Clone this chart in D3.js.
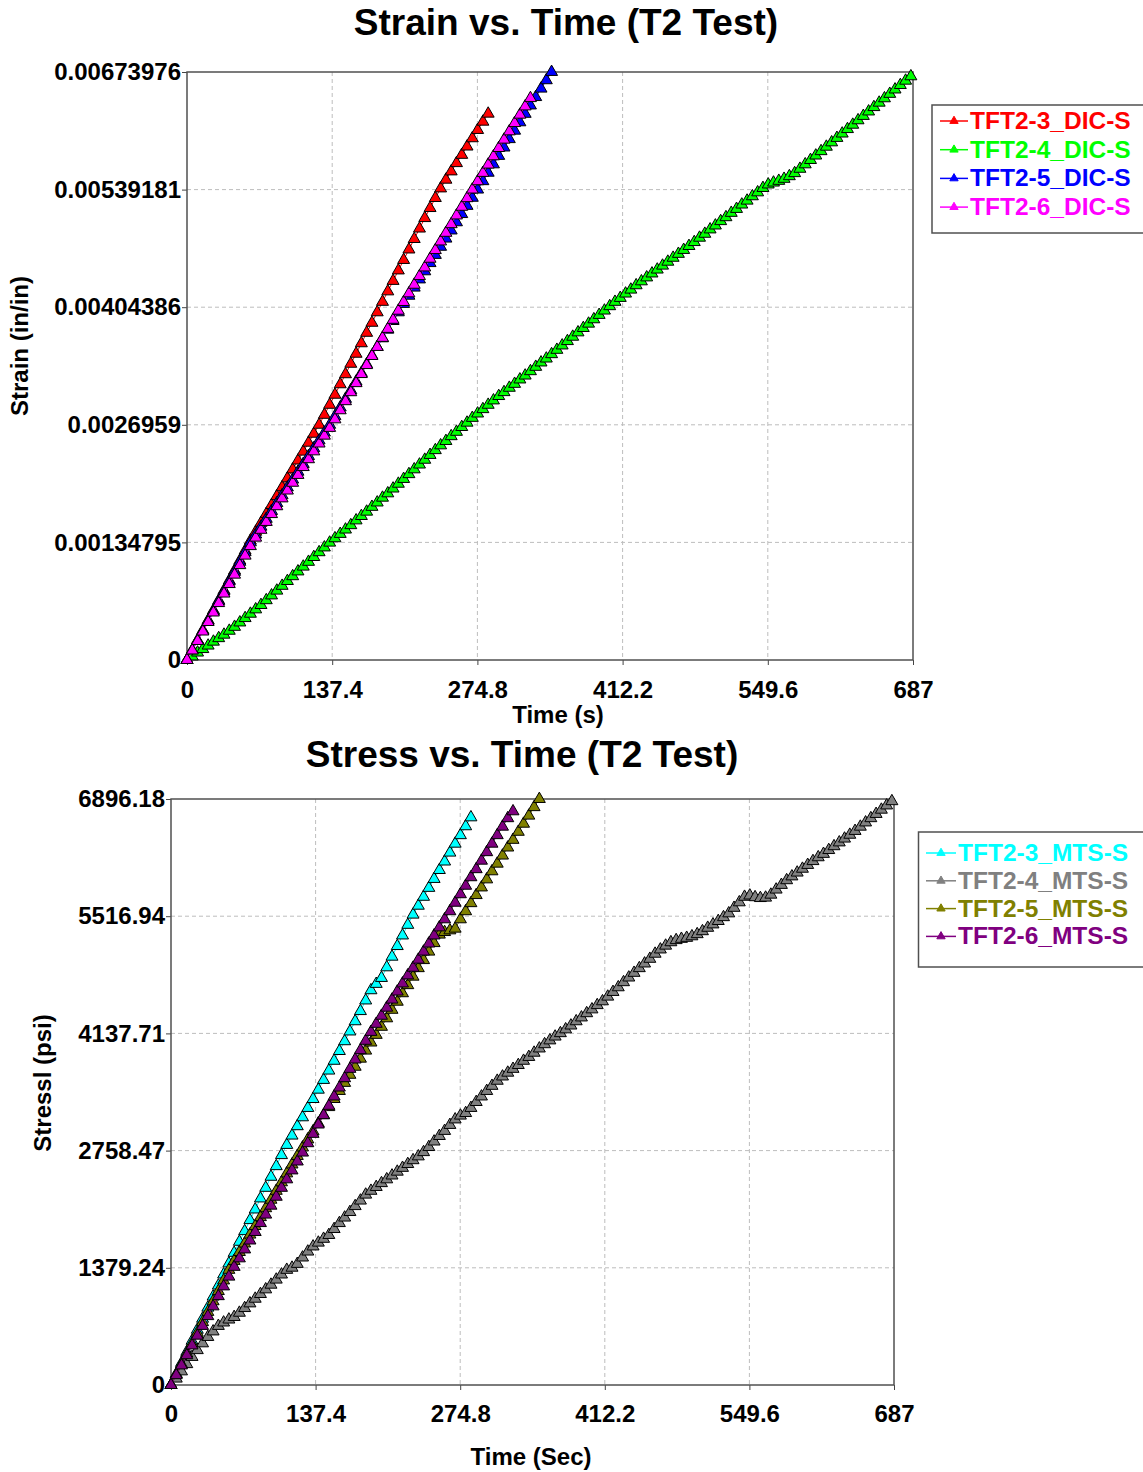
<!DOCTYPE html>
<html>
<head>
<meta charset="utf-8">
<script src="https://cdn.jsdelivr.net/npm/d3@7"></script>
<style>
    body { margin: 0; background: #fff; }
    svg { display: block; font-family: "Liberation Sans", Arial, sans-serif; font-weight: bold; }
</style>
</head>
<body>
<svg id="chart" width="1143" height="1472"></svg>
<script>
// Шаг по времени между отсчётами (с)
const timeStep = 5;

// Деления осей
const timeTicks = [0, 137.4, 274.8, 412.2, 549.6, 687];
const strainTicks = [0, 0.00134795, 0.0026959, 0.00404386, 0.00539181, 0.00673976];
const stressTicks = [0, 1379.24, 2758.47, 4137.71, 5516.94, 6896.18];

// Деформация, микрострейн (in/in * 1e6)
const strainNames = ["TFT2-3_DIC-S", "TFT2-4_DIC-S", "TFT2-5_DIC-S", "TFT2-6_DIC-S"];
const strainTFT2_3 = [0,114,228,342,456,570,684,798,912,1026,
    1140,1254,1368,1470,1572,1674,1776,1878,1980,2082,
    2184,2286,2388,2490,2593,2696,2810,2925,3040,3160,
    3275,3395,3510,3630,3750,3865,3985,4105,4225,4345,
    4465,4585,4705,4825,4945,5065,5180,5295,5405,5505,
    5600,5695,5790,5885,5980,6075,6170,6262];
const strainTFT2_4 = [0,40,85,125,165,210,250,290,335,380,
    430,480,530,580,630,685,740,795,850,905,
    960,1015,1070,1125,1180,1235,1290,1345,1395,1445,
    1495,1545,1600,1650,1700,1755,1805,1860,1910,1965,
    2020,2075,2130,2185,2240,2295,2350,2405,2460,2510,
    2565,2615,2670,2720,2775,2825,2875,2925,2975,3025,
    3070,3120,3165,3215,3260,3310,3360,3410,3455,3505,
    3555,3605,3655,3705,3755,3805,3855,3905,3955,4005,
    4055,4105,4150,4200,4245,4295,4340,4385,4430,4475,
    4520,4565,4610,4655,4700,4745,4790,4840,4885,4935,
    4980,5030,5075,5125,5170,5220,5265,5315,5360,5410,
    5450,5472,5492,5515,5545,5580,5630,5681,5731,5782,
    5832,5883,5933,5984,6034,6085,6135,6186,6236,6287,
    6337,6388,6438,6489,6539,6590,6640,6690];
const strainTFT2_5 = [0,110,225,335,450,560,675,785,900,1010,
    1125,1235,1348,1438,1528,1618,1708,1798,1888,1978,
    2068,2158,2247,2337,2427,2517,2607,2696,2795,2894,
    2993,3092,3191,3290,3390,3489,3588,3687,3786,3885,
    3985,4081,4175,4268,4362,4455,4549,4643,4736,4830,
    4923,5017,5111,5205,5298,5392,5488,5585,5681,5778,
    5874,5970,6067,6163,6260,6356,6452,6549,6645,6740];
const strainTFT2_6 = [0,109,217,326,435,544,652,761,870,978,
    1087,1196,1305,1402,1492,1582,1672,1762,1852,1942,
    2031,2121,2211,2301,2391,2481,2571,2660,2758,2862,
    2966,3069,3173,3277,3380,3484,3588,3692,3795,3899,
    4003,4103,4202,4301,4400,4499,4599,4698,4797,4896,
    4995,5095,5194,5293,5392,5487,5583,5678,5773,5868,
    5964,6059,6154,6250,6345,6440];
const strainColors = ["#ff0000", "#00ff00", "#0000ff", "#ff00ff"];

// Напряжение, psi
const stressNames = ["TFT2-3_MTS-S", "TFT2-4_MTS-S", "TFT2-5_MTS-S", "TFT2-6_MTS-S"];
const stressTFT2_3 = [0,130,260,390,520,650,780,910,1040,1170,
    1300,1430,1555,1685,1810,1940,2065,2195,2320,2450,
    2575,2705,2825,2935,3045,3150,3260,3365,3475,3590,
    3700,3815,3930,4045,4160,4280,4400,4525,4645,4720,
    4790,4915,5040,5165,5290,5415,5535,5640,5745,5850,
    5955,6060,6160,6265,6370,6470,6575,6680];
const stressTFT2_4 = [0,75,160,245,330,410,490,565,630,695,
    735,770,800,850,905,960,1015,1070,1125,1180,
    1240,1300,1355,1380,1425,1500,1570,1630,1675,1720,
    1765,1835,1905,1970,2035,2105,2170,2240,2285,2330,
    2375,2420,2465,2510,2555,2600,2645,2690,2740,2800,
    2865,2930,2990,3060,3125,3170,3200,3260,3330,3395,
    3460,3520,3580,3630,3675,3720,3765,3815,3860,3910,
    3960,4010,4055,4100,4140,4185,4230,4280,4325,4375,
    4420,4470,4515,4570,4625,4680,4740,4795,4850,4905,
    4960,5015,5075,5125,5170,5210,5235,5250,5262,5280,
    5305,5340,5380,5420,5460,5505,5550,5615,5680,5745,
    5760,5740,5730,5735,5770,5830,5885,5940,5985,6030,
    6075,6120,6165,6210,6250,6295,6340,6385,6430,6475,
    6520,6570,6620,6670,6720,6770,6820,6870];
const stressTFT2_5 = [0,125,245,370,490,615,740,860,985,1105,
    1230,1355,1460,1565,1665,1770,1870,1975,2080,2180,
    2285,2385,2490,2595,2695,2795,2890,2985,3080,3175,
    3270,3365,3460,3555,3650,3745,3840,3935,4030,4120,
    4215,4315,4415,4510,4610,4705,4805,4905,5000,5100,
    5200,5300,5330,5350,5370,5480,5575,5670,5765,5855,
    5950,6045,6135,6230,6325,6415,6510,6605,6700,6800,
    6896];
const stressTFT2_6 = [0,115,230,350,465,580,695,810,925,1045,
    1160,1275,1390,1490,1595,1700,1800,1905,2005,2110,
    2215,2320,2420,2525,2630,2735,2845,2955,3065,3175,
    3285,3395,3500,3610,3720,3830,3940,4050,4155,4250,
    4345,4440,4535,4630,4725,4820,4910,5005,5100,5195,
    5290,5385,5480,5575,5675,5775,5875,5975,6070,6170,
    6270,6370,6470,6570,6670,6751];
const stressColors = ["#00ffff", "#808080", "#808000", "#800080"];

// Превращает массив значений в точки {t, v}
function createPoints(values, unit) {
    return values.map((v, i) => ({ t: i * timeStep, v: v * unit }));
}

// Оси, сетка и рамка графика
function createAxis(svg, area, yTicks, padX, padY) {
    let scaleX = d3.scaleLinear()
                   .domain([0, 687])
                   .range([area.left, area.right]);
    let scaleY = d3.scaleLinear()
                   .domain([0, yTicks[yTicks.length - 1]])
                   .range([area.bottom, area.top]);

    // сетка
    const grid = svg.append("g")
        .attr("stroke", "#bdbdbd")
        .attr("stroke-width", 1)
        .attr("stroke-dasharray", "4,3");
    grid.selectAll(".vx")
        .data(timeTicks.slice(1, -1))
        .enter()
        .append("line")
        .attr("x1", d => scaleX(d)).attr("x2", d => scaleX(d))
        .attr("y1", area.top).attr("y2", area.bottom);
    grid.selectAll(".hy")
        .data(yTicks.slice(1, -1))
        .enter()
        .append("line")
        .attr("x1", area.left).attr("x2", area.right)
        .attr("y1", d => scaleY(d)).attr("y2", d => scaleY(d));

    let axisX = d3.axisBottom(scaleX).tickValues(timeTicks)
                  .tickSize(5).tickSizeOuter(0).tickPadding(padX)
                  .tickFormat(d => String(d));
    let axisY = d3.axisLeft(scaleY).tickValues(yTicks)
                  .tickSize(5).tickSizeOuter(0).tickPadding(padY)
                  .tickFormat(d => String(d));

    svg.append("g")
        .attr("transform", `translate(0, ${area.bottom})`)
        .call(axisX);
    svg.append("g")
        .attr("transform", `translate(${area.left}, 0)`)
        .call(axisY);

    svg.selectAll(".tick text")
        .style("font-size", "24px")
        .style("font-weight", "bold")
        .style("font-family", "'Liberation Sans', Arial, sans-serif")
        .attr("fill", "#000");
    svg.selectAll(".tick line").attr("stroke", "#444");
    svg.selectAll(".domain").remove();

    // рамка
    svg.append("rect")
        .attr("x", area.left).attr("y", area.top)
        .attr("width", area.right - area.left)
        .attr("height", area.bottom - area.top)
        .attr("fill", "none")
        .attr("stroke", "#505050")
        .attr("stroke-width", 1.5);

    return [scaleX, scaleY];
}

// Линия с треугольными маркерами
function createLine(svg, points, scaleX, scaleY, color) {
    const lineGenerator = d3.line()
        .x(d => scaleX(d.t))
        .y(d => scaleY(d.v));

    svg.append("path")
        .datum(points)
        .attr("fill", "none")
        .attr("stroke", color)
        .attr("stroke-width", 1)
        .attr("d", lineGenerator);

    svg.append("g")
        .selectAll("path")
        .data(points)
        .enter()
        .append("path")
        .attr("d", d3.symbol(d3.symbolTriangle, 62))
        .attr("transform", d => `translate(${scaleX(d.t)}, ${scaleY(d.v)})`)
        .attr("fill", color)
        .attr("stroke", "#000")
        .attr("stroke-width", 1);
}

// Легенда
function createLegend(svg, box, names, colors) {
    svg.append("rect")
        .attr("x", box.x).attr("y", box.y)
        .attr("width", box.w).attr("height", box.h)
        .attr("fill", "#fff")
        .attr("stroke", "#505050")
        .attr("stroke-width", 1.5);

    names.forEach((name, i) => {
        const y = box.rowY + i * box.step;
        svg.append("line")
            .attr("x1", box.lineX1).attr("x2", box.lineX2)
            .attr("y1", y).attr("y2", y)
            .attr("stroke", colors[i])
            .attr("stroke-width", 1.5);
        svg.append("path")
            .attr("d", d3.symbol(d3.symbolTriangle, 30))
            .attr("transform", `translate(${(box.lineX1 + box.lineX2) / 2}, ${y})`)
            .attr("fill", colors[i])
            .attr("stroke", colors[i]);
        svg.append("text")
            .attr("x", box.textX).attr("y", y + 8)
            .attr("fill", colors[i])
            .style("font-size", "24.5px")
            .text(name);
    });
}

// Отрисовка одного графика
function drawGraph(svg, cfg) {
    const g = svg.append("g");
    const [scX, scY] = createAxis(g, cfg.area, cfg.yTicks, cfg.padX, cfg.padY);

    cfg.series.forEach((values, i) => {
        createLine(g, createPoints(values, cfg.unit), scX, scY, cfg.colors[i]);
    });

    g.append("text")
        .attr("x", cfg.title.x).attr("y", cfg.title.y)
        .attr("text-anchor", "middle")
        .style("font-size", "37px")
        .text(cfg.title.text);

    g.append("text")
        .attr("x", cfg.xLabel.x).attr("y", cfg.xLabel.y)
        .attr("text-anchor", "middle")
        .style("font-size", "24px")
        .text(cfg.xLabel.text);

    g.append("text")
        .attr("transform", `translate(${cfg.yLabel.x}, ${cfg.yLabel.y}) rotate(-90)`)
        .attr("text-anchor", "middle")
        .style("font-size", "24px")
        .text(cfg.yLabel.text);

    createLegend(g, cfg.legend, cfg.names, cfg.colors);
}

const svg = d3.select("#chart");

drawGraph(svg, {
    area: { left: 187, right: 913, top: 72, bottom: 660 },
    yTicks: strainTicks,
    padX: 16, padY: 1,
    unit: 1e-6,
    series: [strainTFT2_3, strainTFT2_4, strainTFT2_5, strainTFT2_6],
    names: strainNames,
    colors: strainColors,
    title: { text: "Strain vs. Time (T2 Test)", x: 566, y: 35 },
    xLabel: { text: "Time (s)", x: 558, y: 723 },
    yLabel: { text: "Strain (in/in)", x: 28, y: 346 },
    legend: { x: 932, y: 105, w: 215, h: 128, rowY: 121, step: 28.7,
              lineX1: 940, lineX2: 968, textX: 970 }
});

drawGraph(svg, {
    area: { left: 171, right: 894, top: 799, bottom: 1385 },
    yTicks: stressTicks,
    padX: 15, padY: 1,
    unit: 1,
    series: [stressTFT2_3, stressTFT2_4, stressTFT2_5, stressTFT2_6],
    names: stressNames,
    colors: stressColors,
    title: { text: "Stress vs. Time (T2 Test)", x: 522, y: 767 },
    xLabel: { text: "Time (Sec)", x: 531, y: 1465 },
    yLabel: { text: "Stressl (psi)", x: 51, y: 1083 },
    legend: { x: 918.5, y: 832, w: 230, h: 135, rowY: 853, step: 27.8,
              lineX1: 926, lineX2: 956, textX: 958 }
});
</script>
</body>
</html>
